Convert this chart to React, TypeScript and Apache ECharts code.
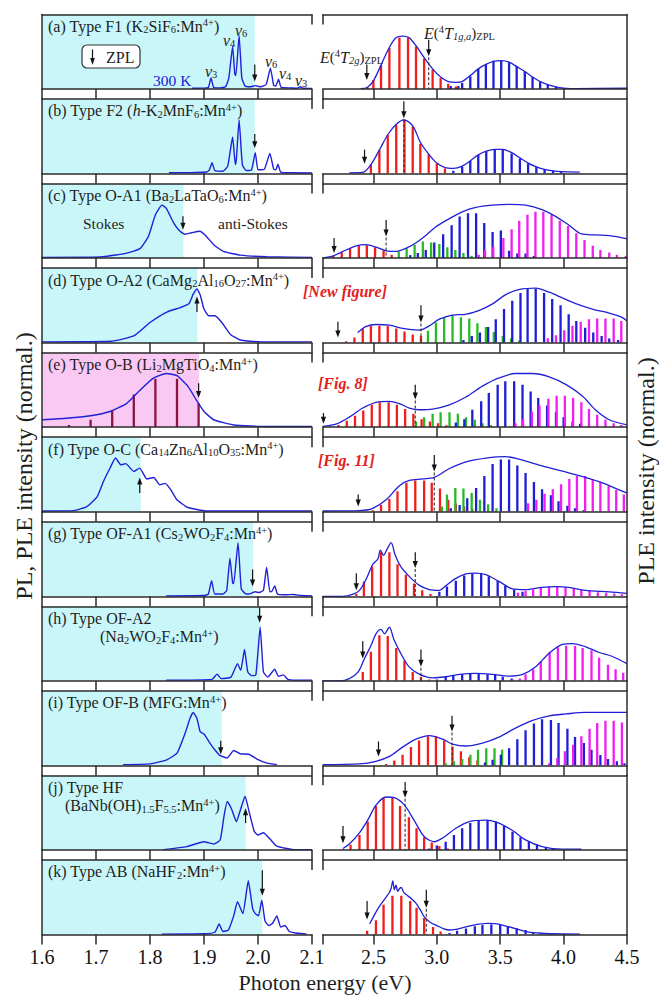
import React, { useEffect, useRef } from 'react';
import * as echarts from 'echarts';

const SERIF = "Liberation Serif, Times New Roman, serif";

// ---------------- axes ----------------
const LEFT_RANGE = [1.6, 2.1];
const RIGHT_RANGE = [2.1, 4.5];
const LEFT_TICKS = [1.6, 1.7, 1.8, 1.9, 2.0, 2.1];
const RIGHT_TICKS = [2.1, 2.5, 3.0, 3.5, 4.0, 4.5];
const RIGHT_TICK_LABELS = [2.5, 3.0, 3.5, 4.0, 4.5];
const BREAK_TICK = [2.1];

// ---------------- left PL spectra ----------------
const PL_A = [[1.878,0.01],[1.9,0.012],[1.908,0.02],[1.913,0.147],[1.918,0.02],[1.93,0.015],[1.94,0.03],[1.946,0.15],[1.953,0.57],[1.957,0.2],[1.959,0.18],[1.965,0.716],[1.970,0.15],[1.976,0.04],[1.985,0.03],[1.995,0.045],[2.005,0.03],[2.015,0.06],[2.023,0.28],[2.029,0.05],[2.033,0.04],[2.038,0.13],[2.043,0.02],[2.06,0.015],[2.072,0.01],[2.078,0.03],[2.084,0.01],[2.1,0.008]];
const PL_B = [[1.835,0.01],[1.88,0.015],[1.905,0.02],[1.91,0.05],[1.915,0.144],[1.92,0.04],[1.935,0.03],[1.944,0.1],[1.953,0.49],[1.958,0.12],[1.960,0.2],[1.965,0.72],[1.971,0.12],[1.978,0.04],[1.988,0.05],[1.995,0.28],[2.0,0.05],[2.012,0.06],[2.022,0.27],[2.029,0.06],[2.033,0.05],[2.037,0.126],[2.042,0.02],[2.06,0.01],[2.1,0.008]];
const PL_C = [[1.6,0.01],[1.708,0.015],[1.757,0.067],[1.782,0.13],[1.797,0.29],[1.81,0.58],[1.822,0.71],[1.83,0.67],[1.844,0.47],[1.856,0.356],[1.865,0.32],[1.877,0.34],[1.892,0.36],[1.902,0.31],[1.918,0.18],[1.936,0.09],[1.967,0.04],[2.017,0.018],[2.1,0.01]];
const PL_D = [[1.6,0.01],[1.727,0.018],[1.77,0.09],[1.8,0.27],[1.832,0.414],[1.856,0.47],[1.872,0.52],[1.88,0.65],[1.887,0.72],[1.893,0.64],[1.9,0.45],[1.909,0.36],[1.92,0.36],[1.933,0.27],[1.949,0.11],[1.967,0.036],[2.005,0.01],[2.1,0.01]];
const PL_E = [[1.6,0.1],[1.646,0.12],[1.69,0.153],[1.726,0.21],[1.757,0.32],[1.782,0.5],[1.807,0.66],[1.83,0.72],[1.85,0.69],[1.87,0.55],[1.887,0.35],[1.9,0.21],[1.918,0.1],[1.955,0.03],[2.017,0.01],[2.1,0.01]];
const PL_F = [[1.6,0.01],[1.659,0.015],[1.683,0.069],[1.702,0.2],[1.714,0.41],[1.727,0.6],[1.736,0.72],[1.746,0.63],[1.755,0.645],[1.77,0.54],[1.781,0.585],[1.794,0.44],[1.807,0.46],[1.818,0.36],[1.828,0.38],[1.838,0.3],[1.85,0.16],[1.869,0.06],[1.905,0.01],[2.1,0.01]];
const PL_G = [[1.83,0.005],[1.9,0.01],[1.908,0.03],[1.914,0.21],[1.92,0.03],[1.935,0.03],[1.942,0.08],[1.948,0.51],[1.953,0.18],[1.955,0.17],[1.963,0.72],[1.969,0.1],[1.976,0.04],[1.983,0.03],[1.99,0.05],[1.995,0.06],[2.002,0.05],[2.01,0.08],[2.016,0.39],[2.022,0.06],[2.026,0.07],[2.031,0.14],[2.036,0.03],[2.05,0.02],[2.066,0.025],[2.08,0.01],[2.1,0.005]];
const PL_H = [[1.83,0.01],[1.915,0.02],[1.924,0.09],[1.932,0.03],[1.95,0.05],[1.962,0.23],[1.968,0.14],[1.975,0.42],[1.981,0.12],[1.988,0.07],[1.996,0.08],[2.004,0.72],[2.01,0.12],[2.018,0.05],[2.031,0.155],[2.038,0.06],[2.047,0.08],[2.055,0.02],[2.07,0.01],[2.1,0.01]];
const PL_I = [[1.75,0.01],[1.8,0.02],[1.831,0.075],[1.85,0.165],[1.865,0.43],[1.874,0.63],[1.88,0.71],[1.887,0.63],[1.893,0.45],[1.9,0.42],[1.909,0.32],[1.92,0.21],[1.93,0.13],[1.943,0.1],[1.955,0.2],[1.967,0.156],[1.983,0.15],[1.998,0.085],[2.017,0.03],[2.035,0.01]];
const PL_J = [[1.825,0.005],[1.868,0.045],[1.9,0.11],[1.918,0.08],[1.93,0.135],[1.937,0.45],[1.943,0.65],[1.951,0.55],[1.96,0.38],[1.968,0.55],[1.976,0.72],[1.984,0.5],[1.993,0.25],[2.0,0.2],[2.01,0.23],[2.023,0.14],[2.035,0.05],[2.066,0.005],[2.1,0.005]];
const PL_K = [[1.822,0.005],[1.9,0.01],[1.92,0.03],[1.928,0.14],[1.935,0.04],[1.945,0.06],[1.955,0.25],[1.962,0.44],[1.972,0.28],[1.982,0.72],[1.99,0.35],[1.995,0.28],[2.001,0.25],[2.007,0.46],[2.013,0.18],[2.02,0.12],[2.027,0.15],[2.035,0.25],[2.042,0.1],[2.05,0.12],[2.058,0.04],[2.07,0.02],[2.085,0.01],[2.09,0.005]];
const STICK_E_LEFT = [[1.65,0.03],[1.69,0.1],[1.73,0.22],[1.77,0.44],[1.81,0.65],[1.85,0.65],[1.89,0.32]];

// right edge of the shaded (Stokes) region, one per panel
const SHADE_END = [1.994, 1.994, 1.862, 1.888, 1.891, 1.783, 1.991, 2.004, 1.933, 1.977, 2.008];
// ZPL arrows in left panels: [x, yTail, yHead, dashed]
const ZPL_LEFT = [[1.994,0.33,0.1,0],[1.994,0.53,0.34,0],[1.861,0.56,0.38,0],[1.887,0.41,0.62,0],[1.89,0.59,0.39,0],[1.781,0.25,0.46,0],[1.99,0.36,0.13,0],[2.003,0.99,0.78,0],[1.931,0.33,0.15,0],[1.977,0.36,0.56,0],[2.008,0.86,0.52,0]];

// ---------------- right PLE spectra (envelopes) ----------------
const ENV_A = [[2.40,0.005],[2.45,0.02],[2.50,0.11],[2.56,0.32],[2.626,0.56],[2.68,0.69],[2.73,0.71],[2.78,0.69],[2.836,0.58],[2.9,0.42],[2.967,0.27],[3.03,0.16],[3.09,0.1],[3.15,0.09],[3.2,0.1],[3.264,0.18],[3.327,0.27],[3.387,0.33],[3.447,0.37],[3.508,0.38],[3.57,0.36],[3.63,0.3],[3.694,0.235],[3.755,0.16],[3.815,0.1],[3.875,0.058],[3.94,0.027],[4.0,0.012],[4.1,0.005],[4.5,0.01]];
const ENV_B = [[2.31,0.01],[2.416,0.015],[2.48,0.12],[2.547,0.315],[2.613,0.52],[2.68,0.66],[2.74,0.72],[2.81,0.64],[2.87,0.42],[2.936,0.26],[3.0,0.14],[3.064,0.08],[3.13,0.07],[3.2,0.1],[3.264,0.17],[3.327,0.25],[3.39,0.3],[3.457,0.325],[3.52,0.325],[3.59,0.28],[3.655,0.21],[3.72,0.14],[3.785,0.09],[3.85,0.055],[3.917,0.036],[3.98,0.025],[4.127,0.02]];
const ENV_C = [[2.1,0.0],[2.184,0.03],[2.26,0.09],[2.365,0.164],[2.44,0.18],[2.52,0.147],[2.6,0.098],[2.68,0.09],[2.76,0.133],[2.84,0.21],[2.915,0.307],[2.993,0.42],[3.1,0.53],[3.2,0.62],[3.308,0.68],[3.44,0.71],[3.57,0.72],[3.7,0.71],[3.83,0.65],[3.94,0.556],[4.04,0.444],[4.14,0.324],[4.25,0.31],[4.36,0.30],[4.5,0.258]];
const ENV_D = [[2.376,0.135],[2.44,0.216],[2.52,0.243],[2.626,0.234],[2.73,0.19],[2.86,0.167],[2.94,0.225],[3.02,0.315],[3.12,0.37],[3.225,0.38],[3.33,0.43],[3.44,0.52],[3.54,0.64],[3.645,0.71],[3.78,0.73],[3.886,0.676],[3.99,0.6],[4.09,0.527],[4.227,0.45],[4.36,0.396],[4.46,0.34],[4.5,0.29]];
const ENV_E = [[2.1,0.01],[2.21,0.045],[2.31,0.135],[2.416,0.257],[2.52,0.333],[2.626,0.347],[2.705,0.315],[2.783,0.257],[2.86,0.234],[2.967,0.243],[3.1,0.3],[3.23,0.405],[3.36,0.55],[3.49,0.66],[3.62,0.72],[3.75,0.72],[3.886,0.676],[4.02,0.57],[4.15,0.414],[4.25,0.234],[4.36,0.1],[4.5,0.03]];
const ENV_F = [[2.1,0.01],[2.39,0.015],[2.495,0.046],[2.6,0.16],[2.705,0.35],[2.783,0.42],[2.888,0.44],[2.98,0.46],[3.1,0.58],[3.23,0.67],[3.387,0.72],[3.54,0.74],[3.7,0.68],[3.86,0.6],[4.02,0.53],[4.17,0.46],[4.3,0.39],[4.4,0.32],[4.5,0.25]];
const ENV_G = [[2.1,0.0],[2.26,0.0],[2.34,0.03],[2.39,0.08],[2.44,0.22],[2.495,0.43],[2.535,0.5],[2.555,0.62],[2.58,0.55],[2.61,0.64],[2.64,0.72],[2.67,0.56],[2.715,0.4],[2.78,0.27],[2.86,0.15],[2.94,0.09],[3.02,0.08],[3.07,0.14],[3.15,0.24],[3.23,0.3],[3.308,0.31],[3.387,0.29],[3.49,0.2],[3.597,0.1],[3.7,0.09],[3.83,0.12],[3.94,0.13],[4.04,0.12],[4.17,0.08],[4.36,0.06],[4.5,0.04]];
const ENV_H = [[2.1,0.0],[2.236,0.0],[2.31,0.03],[2.38,0.12],[2.43,0.3],[2.48,0.47],[2.52,0.63],[2.56,0.69],[2.587,0.63],[2.626,0.72],[2.66,0.56],[2.715,0.37],[2.78,0.19],[2.86,0.09],[2.967,0.04],[3.07,0.055],[3.177,0.087],[3.308,0.1],[3.44,0.087],[3.57,0.064],[3.676,0.087],[3.78,0.19],[3.886,0.37],[3.99,0.49],[4.07,0.5],[4.17,0.46],[4.28,0.38],[4.38,0.33],[4.5,0.23]];
const ENV_I = [[2.1,0.01],[2.39,0.02],[2.52,0.054],[2.626,0.12],[2.73,0.245],[2.836,0.352],[2.94,0.4],[3.046,0.352],[3.124,0.286],[3.23,0.26],[3.36,0.3],[3.49,0.38],[3.62,0.5],[3.75,0.6],[3.886,0.665],[4.02,0.69],[4.17,0.71],[4.5,0.71]];
const ENV_J = [[2.26,0.02],[2.31,0.08],[2.39,0.23],[2.455,0.4],[2.52,0.6],[2.6,0.71],[2.665,0.7],[2.745,0.6],[2.82,0.4],[2.9,0.18],[2.98,0.11],[3.046,0.16],[3.15,0.29],[3.256,0.38],[3.387,0.4],[3.49,0.36],[3.597,0.26],[3.7,0.135],[3.83,0.045],[3.99,0.01],[4.14,0.01]];
const ENV_K = [[2.47,0.14],[2.52,0.3],[2.553,0.39],[2.6,0.5],[2.625,0.56],[2.64,0.62],[2.653,0.72],[2.665,0.6],[2.678,0.66],[2.692,0.58],[2.708,0.62],[2.72,0.63],[2.74,0.56],[2.77,0.52],[2.8,0.48],[2.835,0.42],[2.87,0.33],[2.9,0.24],[2.95,0.16],[3.0,0.12],[3.05,0.08],[3.1,0.06],[3.15,0.07],[3.2,0.09],[3.3,0.13],[3.397,0.15],[3.46,0.145],[3.53,0.12],[3.62,0.08],[3.7,0.04],[3.8,0.02],[3.9,0.01],[4.13,0.005]];

// ---------------- right PLE sticks ----------------
const RED_A = [[2.455,0.02],[2.50,0.12],[2.56,0.32],[2.626,0.55],[2.705,0.69],[2.773,0.69],[2.836,0.57],[2.9,0.41],[2.967,0.26],[3.03,0.147],[3.09,0.07],[3.15,0.035],[3.216,0.013]];
const BLUE_A = [[3.11,0.04],[3.17,0.04],[3.2,0.08],[3.264,0.17],[3.327,0.27],[3.387,0.33],[3.447,0.38],[3.508,0.38],[3.57,0.36],[3.63,0.30],[3.694,0.235],[3.755,0.16],[3.815,0.1],[3.875,0.058],[3.94,0.027],[4.0,0.01]];
const RED_B = [[2.416,0.01],[2.48,0.126],[2.547,0.315],[2.613,0.52],[2.68,0.65],[2.745,0.72],[2.81,0.63],[2.87,0.40],[2.936,0.26],[3.0,0.135],[3.064,0.068]];
const BLUE_B = [[3.13,0.036],[3.2,0.09],[3.264,0.167],[3.327,0.25],[3.39,0.3],[3.457,0.32],[3.52,0.32],[3.59,0.27],[3.655,0.2],[3.72,0.135],[3.785,0.09],[3.85,0.054],[3.917,0.036],[3.98,0.02]];
const RED_C = [[2.184,0.03],[2.25,0.076],[2.316,0.124],[2.385,0.164],[2.448,0.173],[2.513,0.147],[2.58,0.098],[2.644,0.044]];
const GREEN_C = [[2.7,0.09],[2.762,0.133],[2.825,0.178],[2.89,0.222],[2.955,0.21],[3.02,0.19],[3.083,0.147],[3.146,0.11],[3.21,0.067],[3.274,0.03],[3.34,0.013]];
const BLUE_C = [[2.79,0.04],[2.85,0.067],[2.913,0.11],[2.98,0.21],[3.05,0.32],[3.117,0.44],[3.18,0.556],[3.246,0.6],[3.31,0.6],[3.374,0.47],[3.44,0.35],[3.505,0.37],[3.57,0.1],[3.635,0.06],[3.7,0.06],[3.766,0.03]];
const MAG_C = [[3.33,0.044],[3.38,0.11],[3.445,0.15],[3.525,0.27],[3.59,0.387],[3.65,0.5],[3.715,0.58],[3.778,0.62],[3.84,0.62],[3.905,0.58],[3.97,0.5],[4.035,0.43],[4.1,0.333],[4.165,0.244],[4.23,0.164],[4.29,0.11],[4.36,0.076],[4.42,0.044],[4.49,0.03]];
const RED_D = [[2.285,0.02],[2.35,0.068],[2.416,0.19],[2.48,0.225],[2.547,0.225],[2.613,0.225],[2.68,0.19],[2.745,0.15],[2.81,0.11],[2.875,0.09]];
const GREEN_D = [[2.93,0.158],[2.993,0.27],[3.058,0.34],[3.124,0.37],[3.19,0.34],[3.256,0.324],[3.32,0.26],[3.387,0.21],[3.45,0.144],[3.52,0.09],[3.585,0.054],[3.65,0.03]];
const BLUE_D = [[3.21,0.036],[3.276,0.09],[3.34,0.135],[3.405,0.21],[3.465,0.315],[3.53,0.45],[3.595,0.56],[3.66,0.667],[3.716,0.72],[3.78,0.72],[3.846,0.667],[3.91,0.586],[3.976,0.5],[4.04,0.38],[4.1,0.29],[4.17,0.2],[4.234,0.135],[4.3,0.09],[4.36,0.054],[4.43,0.036]];
const MAG_D = [[3.875,0.06],[3.94,0.1],[4.005,0.167],[4.07,0.225],[4.135,0.28],[4.2,0.315],[4.265,0.324],[4.33,0.324],[4.395,0.324],[4.455,0.29]];
const RED_E = [[2.225,0.03],[2.29,0.085],[2.355,0.153],[2.42,0.225],[2.487,0.3],[2.55,0.333],[2.62,0.333],[2.685,0.3],[2.75,0.243],[2.815,0.18],[2.88,0.108],[2.946,0.077],[3.01,0.054],[3.075,0.027]];
const GREEN_E = [[2.836,0.077],[2.9,0.135],[2.967,0.18],[3.03,0.2],[3.1,0.2],[3.166,0.18],[3.23,0.135],[3.3,0.1],[3.36,0.054],[3.426,0.03]];
const BLUE_E = [[3.15,0.063],[3.217,0.108],[3.28,0.234],[3.35,0.347],[3.41,0.46],[3.48,0.57],[3.54,0.617],[3.61,0.617],[3.676,0.57],[3.74,0.48],[3.8,0.39],[3.87,0.29],[3.94,0.2],[4.0,0.135],[4.07,0.077],[4.13,0.045],[4.2,0.027]];
const MAG_E = [[3.62,0.054],[3.68,0.108],[3.75,0.21],[3.81,0.29],[3.88,0.38],[3.945,0.42],[4.01,0.42],[4.075,0.39],[4.14,0.333],[4.2,0.243],[4.265,0.167],[4.33,0.1],[4.395,0.054],[4.455,0.03]];
const RED_F = [[2.495,0.02],[2.56,0.09],[2.626,0.17],[2.69,0.276],[2.76,0.39],[2.83,0.42],[2.9,0.42],[2.96,0.39],[3.025,0.31],[3.09,0.16],[3.15,0.11],[3.216,0.07],[3.28,0.04]];
const GREEN_F = [[3.04,0.07],[3.08,0.23],[3.146,0.32],[3.21,0.31],[3.275,0.25],[3.34,0.16],[3.405,0.1],[3.47,0.046]];
const BLUE_F = [[3.11,0.046],[3.18,0.09],[3.24,0.18],[3.31,0.32],[3.375,0.48],[3.44,0.64],[3.505,0.7],[3.57,0.7],[3.635,0.62],[3.7,0.52],[3.766,0.4],[3.83,0.3],[3.9,0.22],[3.96,0.14],[4.03,0.08],[4.09,0.046],[4.16,0.023]];
const MAG_F = [[3.72,0.115],[3.785,0.16],[3.85,0.24],[3.915,0.3],[3.98,0.37],[4.045,0.44],[4.105,0.48],[4.17,0.48],[4.23,0.44],[4.29,0.4],[4.355,0.35],[4.415,0.29],[4.475,0.23]];
const RED_G = [[2.365,0.03],[2.425,0.2],[2.49,0.4],[2.56,0.59],[2.626,0.59],[2.69,0.43],[2.756,0.29],[2.82,0.17],[2.885,0.08],[2.95,0.03]];
const BLUE_G = [[3.02,0.06],[3.08,0.13],[3.15,0.21],[3.216,0.28],[3.28,0.3],[3.35,0.3],[3.41,0.27],[3.48,0.21],[3.54,0.14],[3.61,0.09],[3.676,0.06]];
const MAG_G = [[3.64,0.046],[3.7,0.073],[3.76,0.092],[3.82,0.115],[3.885,0.128],[3.95,0.128],[4.015,0.12],[4.08,0.1],[4.14,0.083],[4.205,0.07],[4.27,0.055],[4.335,0.046],[4.4,0.037],[4.46,0.028]];
const RED_H = [[2.416,0.12],[2.48,0.39],[2.547,0.61],[2.613,0.6],[2.68,0.44],[2.745,0.27],[2.81,0.12],[2.875,0.055],[2.94,0.018]];
const BLUE_H = [[3.0,0.018],[3.07,0.055],[3.13,0.078],[3.2,0.09],[3.264,0.1],[3.33,0.1],[3.4,0.09],[3.46,0.078],[3.52,0.055],[3.59,0.032]];
const MAG_H = [[3.6,0.018],[3.655,0.032],[3.7,0.09],[3.76,0.155],[3.82,0.26],[3.89,0.384],[3.955,0.45],[4.02,0.47],[4.09,0.466],[4.15,0.44],[4.22,0.41],[4.28,0.31],[4.35,0.215],[4.41,0.155],[4.47,0.11]];
const RED_I = [[2.6,0.02],[2.665,0.067],[2.73,0.143],[2.796,0.245],[2.86,0.335],[2.93,0.39],[2.993,0.39],[3.058,0.335],[3.124,0.255],[3.19,0.19],[3.256,0.11],[3.32,0.067]];
const GREEN_I = [[3.07,0.03],[3.135,0.054],[3.2,0.085],[3.265,0.143],[3.325,0.21],[3.39,0.23],[3.455,0.23],[3.515,0.21]];
const BLUE_I = [[3.38,0.04],[3.44,0.076],[3.505,0.143],[3.57,0.23],[3.635,0.35],[3.7,0.47],[3.766,0.56],[3.83,0.62],[3.9,0.61],[3.96,0.567],[4.03,0.49],[4.09,0.38],[4.16,0.3],[4.22,0.21],[4.29,0.14],[4.35,0.085],[4.42,0.054],[4.48,0.03]];
const MAG_I = [[3.885,0.03],[3.95,0.1],[4.01,0.19],[4.075,0.277],[4.14,0.39],[4.205,0.49],[4.265,0.567],[4.33,0.6],[4.395,0.6],[4.46,0.576]];
const RED_J = [[2.26,0.01],[2.32,0.07],[2.39,0.2],[2.455,0.38],[2.52,0.59],[2.58,0.7],[2.65,0.7],[2.71,0.59],[2.78,0.44],[2.84,0.29],[2.9,0.17],[2.96,0.1],[3.02,0.054],[3.087,0.02]];
const BLUE_J = [[2.94,0.02],[3.0,0.06],[3.07,0.11],[3.135,0.2],[3.2,0.29],[3.264,0.36],[3.33,0.4],[3.4,0.4],[3.466,0.38],[3.53,0.32],[3.597,0.245],[3.66,0.17],[3.726,0.11],[3.79,0.07],[3.86,0.036],[3.92,0.018]];
const RED_K = [[2.45,0.05],[2.52,0.19],[2.58,0.4],[2.65,0.52],[2.72,0.52],[2.79,0.45],[2.84,0.36],[2.9,0.22],[2.97,0.1],[3.03,0.04]];
const BLUE_K = [[3.1,0.02],[3.16,0.05],[3.23,0.08],[3.3,0.11],[3.36,0.13],[3.43,0.135],[3.5,0.13],[3.56,0.11],[3.63,0.085],[3.7,0.06],[3.76,0.035],[3.83,0.02],[3.9,0.01]];

// ZPL arrows in right panels: [x, yTail, yHead, dashed]
const ZPL_RIGHT = [
  [[2.448,0.33,0.12,0],[2.936,0.66,0.44,1]],
  [[2.43,0.32,0.13,0],[2.74,0.97,0.74,1]],
  [[2.19,0.27,0.07,0],[2.6,0.51,0.29,1]],
  [[2.22,0.28,0.07,0],[2.875,0.5,0.27,1]],
  [[2.106,0.19,0.045,0],[2.83,0.57,0.37,1]],
  [[2.38,0.23,0.07,0],[2.98,0.76,0.54,1]],
  [[2.365,0.31,0.08,0],[2.83,0.59,0.38,1]],
  [[2.416,0.53,0.3,0],[2.875,0.42,0.19,1]],
  [[2.54,0.32,0.12,0],[3.12,0.665,0.455,1]],
  [[2.26,0.32,0.09,0],[2.75,0.91,0.7,1]],
  [[2.45,0.45,0.2,0],[2.917,0.6,0.36,1]],
];

const PL_LINES = [PL_A, PL_B, PL_C, PL_D, PL_E, PL_F, PL_G, PL_H, PL_I, PL_J, PL_K];
const ENVELOPES = [ENV_A, ENV_B, ENV_C, ENV_D, ENV_E, ENV_F, ENV_G, ENV_H, ENV_I, ENV_J, ENV_K];
// [red, green, blue, magenta]
const STICKS = [
  [RED_A, [], BLUE_A, []],
  [RED_B, [], BLUE_B, []],
  [RED_C, GREEN_C, BLUE_C, MAG_C],
  [RED_D, GREEN_D, BLUE_D, MAG_D],
  [RED_E, GREEN_E, BLUE_E, MAG_E],
  [RED_F, GREEN_F, BLUE_F, MAG_F],
  [RED_G, [], BLUE_G, MAG_G],
  [RED_H, [], BLUE_H, MAG_H],
  [RED_I, GREEN_I, BLUE_I, MAG_I],
  [RED_J, [], BLUE_J, []],
  [RED_K, [], BLUE_K, []],
];

const PANEL_LABELS = [
  ['(a) Type F1 (K{s|2}SiF{s|6}:Mn{p|4+})'],
  ['(b) Type F2 ({i|h}-K{s|2}MnF{s|6}:Mn{p|4+})'],
  ['(c) Type O-A1 (Ba{s|2}LaTaO{s|6}:Mn{p|4+})'],
  ['(d) Type O-A2 (CaMg{s|2}Al{s|16}O{s|27}:Mn{p|4+})'],
  ['(e) Type O-B (Li{s|2}MgTiO{s|4}:Mn{p|4+})'],
  ['(f) Type O-C (Ca{s|14}Zn{s|6}Al{s|10}O{s|35}:Mn{p|4+})'],
  ['(g) Type OF-A1 (Cs{s|2}WO{s|2}F{s|4}:Mn{p|4+})'],
  ['(h) Type OF-A2', '(Na{s|2}WO{s|2}F{s|4}:Mn{p|4+})'],
  ['(i) Type OF-B (MFG:Mn{p|4+})'],
  ['(j) Type HF', '(BaNb(OH){s|1.5}F{s|5.5}:Mn{p|4+})'],
  ['(k) Type AB (NaHF{s|2}:Mn{p|4+})'],
];
const LABEL2_X = [0, 0, 0, 0, 0, 0, 0, 100, 0, 65, 0];

// ---------------- styling / layout ----------------
const LX0 = 42, LX1 = 312, RX0 = 322.7, RX1 = 627;
const ROW0 = 89, PITCH = 84.55, PANEL_H = 74.6;
const AX = { color: '#2b2b2b', width: 1.5 };
const CYAN = '#c9f7f9';
const PINK = '#f9c9f3';
const LINE_BLUE = '#2020d8';
const STICK_COLORS = ['#f21c1c', '#26bb26', '#1e1ed6', '#f01ef0', '#8c1240'];
const TXT = '#1e1e1e';

const RICH = {
  s: { fontSize: 10.5, fontFamily: SERIF, fill: TXT, lineHeight: 9, verticalAlign: 'bottom' },
  p: { fontSize: 10.5, fontFamily: SERIF, fill: TXT, lineHeight: 9, verticalAlign: 'top' },
  i: { fontSize: 16, fontFamily: SERIF, fill: TXT, fontStyle: 'italic' },
  is: { fontSize: 10.5, fontFamily: SERIF, fill: TXT, fontStyle: 'italic', lineHeight: 9, verticalAlign: 'bottom' },
  nu: { fontSize: 16, fontFamily: SERIF, fill: TXT, fontStyle: 'italic' },
};

function txt(x: number, y: number, text: string, extra: any = {}) {
  return {
    type: 'text', x, y, z: 60, silent: true,
    style: Object.assign({
      text, fontFamily: SERIF, fontSize: 15, fill: TXT, lineHeight: 18,
      align: 'left', verticalAlign: 'middle', rich: RICH,
    }, extra),
  };
}

const shadeRender = (color: string) => (params: any, api: any) => {
  const a = api.coord([api.value(0), 1]);
  const b = api.coord([api.value(1), 0]);
  return { type: 'rect', shape: { x: a[0], y: a[1], width: b[0] - a[0], height: b[1] - a[1] }, style: { fill: color } };
};

const stickRender = (params: any, api: any) => {
  const x = api.value(0), y = api.value(1), c = api.value(2);
  const p0 = api.coord([x, 0]);
  const p1 = api.coord([x, y]);
  return { type: 'line', shape: { x1: p0[0], y1: p0[1], x2: p1[0], y2: p1[1] }, style: { stroke: STICK_COLORS[c], lineWidth: 2.3 } };
};

const arrowRender = (params: any, api: any) => {
  const x = api.value(0), y1 = api.value(1), y2 = api.value(2), dashed = api.value(3);
  const p1 = api.coord([x, y1]);
  const p2 = api.coord([x, y2]);
  const dir = p2[1] > p1[1] ? 1 : -1;
  const hl = 7, hw = 2.6;
  const children: any[] = [
    { type: 'line', shape: { x1: p1[0], y1: p1[1], x2: p2[0], y2: p2[1] - dir * (hl - 1) }, style: { stroke: '#111', lineWidth: 1.2 } },
    { type: 'polygon', shape: { points: [[p2[0] - hw, p2[1] - dir * hl], [p2[0] + hw, p2[1] - dir * hl], [p2[0], p2[1]]] }, style: { fill: '#111' } },
  ];
  if (dashed) {
    const p0 = api.coord([x, 0]);
    children.push({ type: 'line', shape: { x1: p2[0], y1: p2[1] + 1, x2: p0[0], y2: p0[1] }, style: { stroke: '#333', lineWidth: 1.1, lineDash: [3, 2] } });
  }
  return { type: 'group', children };
};

function buildOption() {
  const grid: any[] = [], xAxis: any[] = [], yAxis: any[] = [], series: any[] = [];
  for (let i = 0; i < 11; i++) {
    const bottom = ROW0 + i * PITCH;
    const top = bottom - PANEL_H;
    const last = i === 10;
    for (let side = 0; side < 2; side++) {
      const g = i * 2 + side;
      const range = side === 0 ? LEFT_RANGE : RIGHT_RANGE;
      grid.push({
        left: side === 0 ? LX0 : RX0, top,
        width: side === 0 ? LX1 - LX0 : RX1 - RX0, height: PANEL_H,
      });
      xAxis.push({
        gridIndex: g, type: 'value', position: 'bottom', min: range[0], max: range[1], z: 10,
        axisLine: { show: true, onZero: false, lineStyle: AX },
        axisTick: { show: true, inside: false, length: 10, customValues: side === 0 ? LEFT_TICKS : RIGHT_TICKS, lineStyle: AX },
        axisLabel: {
          show: last, customValues: side === 0 ? LEFT_TICKS : RIGHT_TICK_LABELS,
          formatter: (v: number) => v.toFixed(1), fontFamily: SERIF, fontSize: 20, color: '#111', margin: 12,
        },
        splitLine: { show: false },
      });
      xAxis.push({
        gridIndex: g, type: 'value', position: 'top', min: range[0], max: range[1], z: 10,
        axisLine: { show: true, onZero: false, lineStyle: AX },
        axisTick: { show: true, inside: true, length: 10, customValues: BREAK_TICK, lineStyle: AX },
        axisLabel: { show: false }, splitLine: { show: false },
      });
      yAxis.push({
        gridIndex: g, type: 'value', min: 0, max: 1, position: side === 0 ? 'left' : 'right', z: 10,
        axisLine: { show: true, onZero: false, lineStyle: AX },
        axisTick: { show: false }, axisLabel: { show: false }, splitLine: { show: false },
      });
    }
    const gl = i * 2, gr = i * 2 + 1;
    // left panel
    series.push({
      type: 'custom', xAxisIndex: gl * 2, yAxisIndex: gl, z: 1, silent: true,
      data: [[LEFT_RANGE[0], SHADE_END[i]]], renderItem: shadeRender(i === 4 ? PINK : CYAN),
    });
    if (i === 4) {
      series.push({
        type: 'custom', xAxisIndex: gl * 2, yAxisIndex: gl, z: 2, silent: true, clip: true,
        data: STICK_E_LEFT.map((d) => [d[0], d[1], 4]), renderItem: stickRender,
      });
    }
    series.push({
      type: 'line', xAxisIndex: gl * 2, yAxisIndex: gl, z: 3, silent: true,
      data: PL_LINES[i], symbol: 'none', showSymbol: false, smooth: 0.15,
      lineStyle: { color: LINE_BLUE, width: 1.4 },
    });
    series.push({
      type: 'custom', xAxisIndex: gl * 2, yAxisIndex: gl, z: 4, silent: true,
      data: [ZPL_LEFT[i]], renderItem: arrowRender,
    });
    // right panel
    const st: any[] = [];
    STICKS[i].forEach((arr: any[], c: number) => arr.forEach((d) => st.push([d[0], d[1], c])));
    series.push({
      type: 'custom', xAxisIndex: gr * 2, yAxisIndex: gr, z: 2, silent: true, clip: true,
      data: st, renderItem: stickRender,
    });
    series.push({
      type: 'line', xAxisIndex: gr * 2, yAxisIndex: gr, z: 3, silent: true,
      data: ENVELOPES[i], symbol: 'none', showSymbol: false, smooth: 0.3,
      lineStyle: { color: LINE_BLUE, width: 1.3 },
    });
    series.push({
      type: 'custom', xAxisIndex: gr * 2, yAxisIndex: gr, z: 4, silent: true,
      data: ZPL_RIGHT[i], renderItem: arrowRender,
    });
  }

  const graphic: any[] = [];
  PANEL_LABELS.forEach((lab, i) => {
    const top = ROW0 + i * PITCH - PANEL_H;
    graphic.push(txt(48, top + 12, lab[0], { fontSize: 16 }));
    if (lab[1]) graphic.push(txt(LABEL2_X[i], top + 30.5, lab[1], { fontSize: 16 }));
  });
  // legend box of panel (a)
  graphic.push({ type: 'rect', z: 55, silent: true, shape: { x: 82, y: 45, width: 58, height: 23, r: 5 }, style: { fill: '#fff', stroke: '#333', lineWidth: 1.2 } });
  graphic.push({ type: 'line', z: 60, silent: true, shape: { x1: 92.5, y1: 49.5, x2: 92.5, y2: 59 }, style: { stroke: '#111', lineWidth: 1.2 } });
  graphic.push({ type: 'polygon', z: 60, silent: true, shape: { points: [[90.2, 58], [94.8, 58], [92.5, 65]] }, style: { fill: '#111' } });
  graphic.push(txt(106, 57, 'ZPL', { fontSize: 16 }));
  graphic.push(txt(153, 80, '300 K', { fontSize: 15.5, fill: '#2020d0' }));
  // vibronic labels
  graphic.push(txt(205, 71, '{nu|ν}{s|3}'));
  graphic.push(txt(223, 40, '{nu|ν}{s|4}'));
  graphic.push(txt(235, 30, '{nu|ν}{s|6}'));
  graphic.push(txt(265, 61, '{nu|ν}{s|6}'));
  graphic.push(txt(279, 73, '{nu|ν}{s|4}'));
  graphic.push(txt(295, 80, '{nu|ν}{s|3}'));
  // Stokes labels (c)
  graphic.push(txt(83, 223, 'Stokes', { fontSize: 15.5 }));
  graphic.push(txt(218, 223, 'anti-Stokes', { fontSize: 15.5 }));
  // right annotations (a)
  graphic.push(txt(320, 57, '{i|E}({p|4}{i|T}{is|2g}){s|ZPL}'));
  graphic.push(txt(424, 33, '{i|E}({p|4}{i|T}{is|1g,a}){s|ZPL}'));
  // red notes
  const red = { fontSize: 16, fontWeight: 'bold', fontStyle: 'italic', fill: '#e4201c' };
  graphic.push(txt(303, 291, '[New figure]', red));
  graphic.push(txt(318, 383, '[Fig. 8]', red));
  graphic.push(txt(318, 460, '[Fig. 11]', red));
  // axis titles
  graphic.push({
    type: 'text', x: 24, y: 466, rotation: Math.PI / 2, silent: true,
    style: { text: 'PL, PLE intensity (normal.)', fontFamily: SERIF, fontSize: 24, fill: TXT, align: 'center', verticalAlign: 'middle' },
  });
  graphic.push({
    type: 'text', x: 646, y: 471, rotation: Math.PI / 2, silent: true,
    style: { text: 'PLE intensity (normal.)', fontFamily: SERIF, fontSize: 24, fill: TXT, align: 'center', verticalAlign: 'middle' },
  });
  graphic.push({
    type: 'text', x: 325, y: 982, silent: true,
    style: { text: 'Photon energy (eV)', fontFamily: SERIF, fontSize: 22, fill: TXT, align: 'center', verticalAlign: 'middle' },
  });

  return { animation: false, backgroundColor: '#fff', grid, xAxis, yAxis, series, graphic };
}

export default function App() {
  const ref = useRef<HTMLDivElement>(null);
  useEffect(() => {
    const chart = echarts.init(ref.current as HTMLDivElement, null, { renderer: 'svg' });
    chart.setOption(buildOption() as any);
    return () => chart.dispose();
  }, []);
  return <div ref={ref} style={{ position: 'fixed', left: 0, top: 0, width: 660, height: 995, background: '#fff' }} />;
}
